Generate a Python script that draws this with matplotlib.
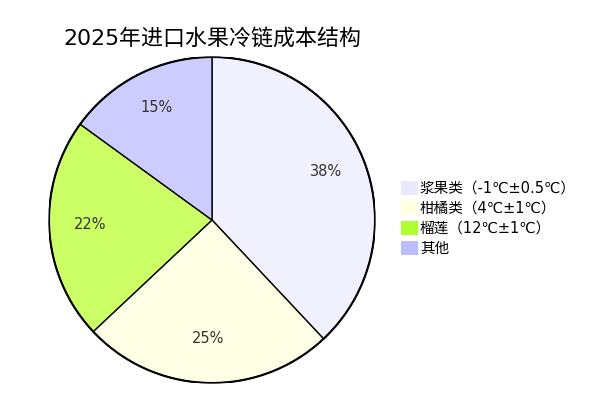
import matplotlib
matplotlib.use("Agg")
import matplotlib.pyplot as plt
from matplotlib.patches import Patch, Circle

plt.rcParams['font.family'] = ['DejaVu Sans', 'Noto Sans CJK SC']

title = "2025年进口水果冷链成本结构"
categories = ["浆果类（-1℃±0.5℃）", "柑橘类（4℃±1℃）", "榴莲（12℃±1℃）", "其他"]
values = [38, 25, 22, 15]
pie_colors = ["#F0F0FF", "#FFFFE6", "#CCFF66", "#CCCCFF"]
legend_colors = ["#E8E8FF", "#FFFFE0", "#ADFF2F", "#BBBBFF"]

W, H = 614, 405
fig = plt.figure(figsize=(W / 100, H / 100), dpi=100)
cx, cy, r = 212, 220, 163
ax = fig.add_axes([(cx - r) / W, (H - cy - r) / H, 2 * r / W, 2 * r / H])

wedges, texts, autotexts = ax.pie(
    values, colors=pie_colors, startangle=90, counterclock=False,
    autopct='%1.0f%%', pctdistance=0.75,
    wedgeprops=dict(edgecolor='black', linewidth=1.0),
    textprops=dict(color='#333333', fontsize=10.5))
for t in autotexts:
    x, y = t.get_position()
    t.set_position((x, y + 3.5 / r))
ax.add_patch(Circle((0, 0), 1.0, fill=False, edgecolor='black', linewidth=1.5))
ax.set_xlim(-1.0, 1.0)
ax.set_ylim(-1.0, 1.0)
ax.set_aspect('equal')
ax.axis('off')

fig.text(cx / W, 1 - 38 / H, title, ha='center', va='center', fontsize=15.8)

handles = [Patch(facecolor=c, edgecolor='none') for c in legend_colors]
fig.legend(handles, categories, loc='upper left',
           bbox_to_anchor=(401 / W, 1 - 181 / H), frameon=False,
           borderaxespad=0, borderpad=0, fontsize=10.5,
           handlelength=1.15, handleheight=1.1, handletextpad=0.15,
           labelspacing=0.34)

fig.savefig("out.png", dpi=100)
